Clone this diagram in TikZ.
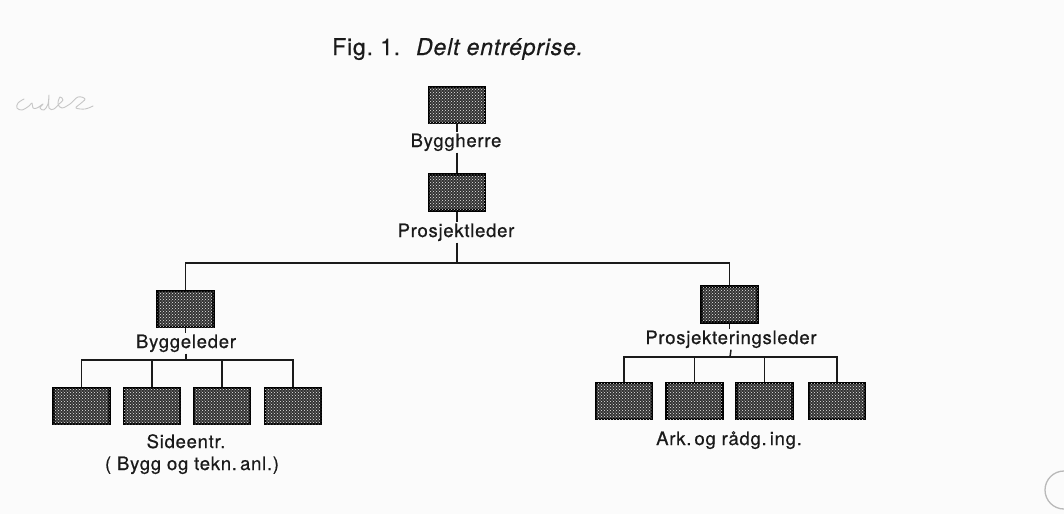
\documentclass[tikz,border=0pt]{standalone}
\usepackage{fontspec}
\usetikzlibrary{patterns}
\newfontfamily\orgfont[LetterSpace=4,FakeBold=0.6]{TeX Gyre Heros}
\newfontfamily\titlefont[LetterSpace=3.5,FakeBold=0.5]{TeX Gyre Heros}
\definecolor{ink}{HTML}{1A1A1A}
\definecolor{paper}{HTML}{FBFBFB}
\begin{document}
\begin{tikzpicture}[x=1pt,y=-1pt,
  unit/.style={draw=black, line width=2.1pt, fill=black!80,
    postaction={pattern=crosshatch dots, pattern color=white!85!gray},
    minimum width=56pt, minimum height=36pt, inner sep=0pt},
  lbl/.style={text=ink, font=\orgfont\fontsize{18.5}{20}\selectfont,
    inner sep=1.5pt, anchor=base},
  link/.style={draw=ink, line width=1.5pt}
]
\fill[paper] (0,0) rectangle (1064,514);
\useasboundingbox (0,0) rectangle (1064,514);

% title
\node[text=ink, anchor=base west, inner sep=0pt,
  font=\titlefont\fontsize{23}{26}\selectfont] (title) at (332,55)
  {Fig.~1.\hspace{16pt}\textit{Delt entréprise.}};

% top of the hierarchy
\node[unit] (bh) at (457,105) {};
\node[lbl] (bhl) at (456,147) {Byggherre};
\node[unit] (pl) at (457,192.5) {};
\node[lbl] (pll) at (456,237) {Prosjektleder};
\coordinate (hub) at (457,263);

% site management branch
\node[unit] (bg) at (185.5,309) {};
\node[lbl] (bgl) at (186,348) {Byggeleder};
\coordinate (hubL) at (186,360);
\node[unit] (s1) at (81.5,406) {};
\node[unit] (s2) at (152,406) {};
\node[unit] (s3) at (222,406) {};
\node[unit] (s4) at (293,406) {};
\node[lbl] (sl1) at (186,448) {Sideentr.};
\node[lbl] (sl2) at (192,470) {( Bygg og tekn.\,anl.)};

% design management branch
\node[unit] (pj) at (729.5,304.5) {};
\node[lbl] (pjl) at (731,344) {Prosjekteringsleder};
\coordinate (hubR) at (730,357);
\node[unit] (r1) at (624,401) {};
\node[unit] (r2) at (694.5,401) {};
\node[unit] (r3) at (764.5,401) {};
\node[unit] (r4) at (837,401) {};
\node[lbl] (rl) at (729,445) {Ark.\,og rådg.\,ing.};

% connectors (kept vertical on the box axis)
\draw[link] (bh.south) -- (bh.south |- bhl.north);
\draw[link] (pl.north |- bhl.south) -- (pl.north);
\draw[link] (pl.south) -- (pl.south |- pll.north);
\draw[link] (pl.south |- pll.south) -- (hub);
\draw[link] (bg.north) |- (hub) -| (pj.north);

\draw[link] (bg.south) -- (bg.south |- bgl.north);
\draw[link] (bgl.south) -- (hubL);
\draw[link] (s1.north) |- (hubL) -| (s4.north);
\draw[link] (s2.north) -- (s2.north |- hubL);
\draw[link] (s3.north) -- (s3.north |- hubL);

\draw[link] (pj.south) -- (pj.south |- pjl.north);
\draw[link] (pjl.south) -- (hubR);
\draw[link] (r1.north) |- (hubR) -| (r4.north);
\draw[link] (r2.north) -- (r2.north |- hubR);
\draw[link] (r3.north) -- (r3.north |- hubR);

% pencil note in the margin
\draw[gray!45, line width=0.9pt, line cap=round, line join=round]
  plot[smooth, tension=0.6] coordinates {(24,99) (18,103) (17,108) (22,110) (29,106)
    (32,103) (33,108) (37,108) (43,104) (40,108) (44,110) (48,104) (49,95)
    (49,108) (54,109) (59,104) (63,100) (60,97) (58,104) (62,108) (70,104)
    (78,97) (85,99) (80,104) (76,108) (85,109) (93,106)};

% punch hole at the edge
\draw[gray!55, line width=1.3pt] (1064,490) circle (19);
\end{tikzpicture}
\end{document}
